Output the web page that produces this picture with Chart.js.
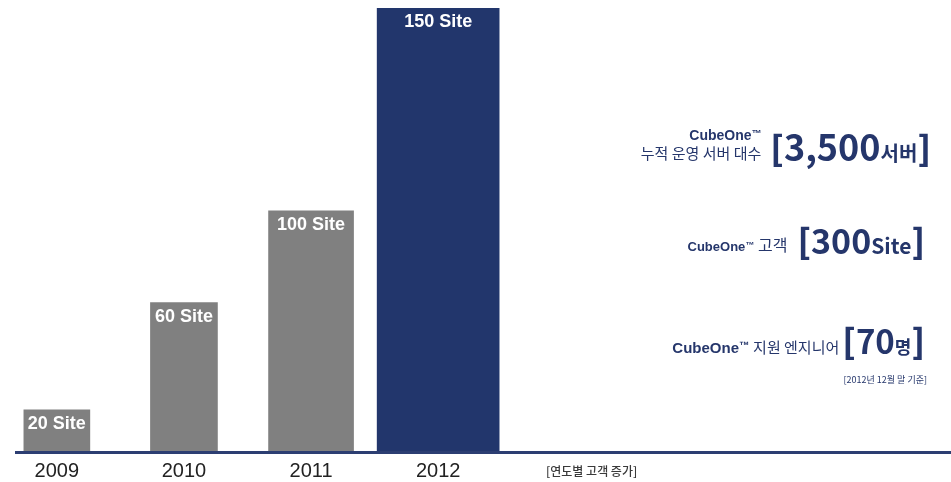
<!DOCTYPE html>
<html>
<head>
<meta charset="utf-8">
<script src="https://cdn.jsdelivr.net/npm/chart.js@4"></script>
<style>
  body { margin: 0; background: #fff; }
  #wrap { position: relative; width: 951px; height: 482px; }
  canvas { position: absolute; left: 0; top: 0; }
  .row { position: absolute; right: 20px; display: flex; align-items: center; color: #25366b;
         font-family: 'Noto Sans CJK KR', sans-serif; white-space: nowrap; }
  .brand { font-family: 'Liberation Sans', Arial, sans-serif; font-weight: bold; }
  .brand sup { font-size: 0.7em; vertical-align: 0.35em; line-height: 0; }
  .big { font-weight: 700; line-height: 1; }
  .bk { font-weight: 900; font-size: 34px; }
  .note { position: absolute; font-family: 'Noto Sans CJK KR', sans-serif; white-space: nowrap; }
</style>
</head>
<body>
<div id="wrap">
  <canvas id="siteChart" width="951" height="482"></canvas>

  <div class="row" style="top:123px;height:44px;">
    <div style="text-align:right;margin-right:9px;line-height:18px;position:relative;top:-1px;">
      <div class="brand" style="font-size:14px;">CubeOne<sup>™</sup></div>
      <div style="font-size:15px;">누적 운영 서버 대수</div>
    </div>
    <span class="big"><span class="bk">[</span><span style="font-size:36px;">3,500</span><span style="font-size:20px;">서버</span><span class="bk">]</span></span>
  </div>

  <div class="row" style="top:218px;height:44px;right:26px;">
    <div style="margin-right:10px;position:relative;top:4px;">
      <span class="brand" style="font-size:13px;">CubeOne<sup>™</sup></span>
      <span style="font-size:16px;">고객</span>
    </div>
    <span class="big"><span class="bk">[</span><span style="font-size:34px;">300</span><span style="font-size:21px;">Site</span><span class="bk">]</span></span>
  </div>

  <div class="row" style="top:318px;height:44px;right:26px;">
    <div style="margin-right:3px;position:relative;top:6px;">
      <span class="brand" style="font-size:15px;">CubeOne<sup>™</sup></span>
      <span style="font-size:15px;">지원 엔지니어</span>
    </div>
    <span class="big"><span class="bk">[</span><span style="font-size:33px;">70</span><span style="font-size:18px;">명</span><span class="bk">]</span></span>
  </div>

  <div class="note" style="right:24px;top:373px;font-size:9px;color:#25366b;">[2012년 12월 말 기준]</div>
  <div class="note" style="left:546px;top:462px;font-size:12px;font-weight:500;color:#3a3a3a;">[연도별 고객 증가]</div>
</div>

<script>
const years = ['2009', '2010', '2011', '2012'];
const siteCounts = [20, 60, 100, 150];
// bars in the infographic are not to scale with the counts; lengths read off the picture against the 100 Site bar
const barLengths = [17.5, 62, 100, 184];

function createChart() {
  const barColors = ['#808080', '#808080', '#808080', '#22366c'];
  const barWidths = [66, 67, 85, 122];

  // white "NN Site" captions inside the top of each bar
  const barCaptions = {
    id: 'barCaptions',
    afterDatasetsDraw(chart) {
      const ctx = chart.ctx;
      ctx.save();
      ctx.fillStyle = '#ffffff';
      ctx.font = 'bold 18px "Liberation Sans", Arial, sans-serif';
      ctx.textAlign = 'center';
      ctx.textBaseline = 'middle';
      chart.data.datasets.forEach((ds, i) => {
        const bar = chart.getDatasetMeta(i).data[0];
        ctx.fillText(siteCounts[i] + ' Site', bar.x, bar.y + 14);
      });
      ctx.restore();
    }
  };

  const ctx = document.getElementById('siteChart').getContext('2d');
  new Chart(ctx, {
    type: 'bar',
    data: {
      datasets: years.map((y, i) => ({
        label: y,
        data: [{x: i, y: barLengths[i]}],
        backgroundColor: barColors[i],
        barThickness: barWidths[i],
        grouped: false
      }))
    },
    options: {
      responsive: false,
      animation: false,
      devicePixelRatio: 1,
      layout: {padding: {left: 16, right: 0, top: 0, bottom: -8}},
      plugins: {legend: {display: false}, tooltip: {enabled: false}},
      scales: {
        x: {
          type: 'linear',
          min: -0.3214,
          max: 7.035,
          offset: false,
          grid: {display: false, drawTicks: false},
          border: {display: true, color: '#2c3e72', width: 3, z: 1},
          afterBuildTicks: axis => { axis.ticks = years.map((_, i) => ({value: i})); },
          ticks: {
            autoSkip: false,
            maxRotation: 0,
            padding: 7,
            color: '#222222',
            font: {family: '"Liberation Sans", Arial, sans-serif', size: 20},
            callback: v => years[v] ?? ''
          }
        },
        y: {display: false, min: 0, max: 187.5}
      }
    },
    plugins: [barCaptions]
  });
}

if (document.readyState === 'loading') {
  document.addEventListener('DOMContentLoaded', createChart);
} else {
  createChart();
}
</script>
</body>
</html>
